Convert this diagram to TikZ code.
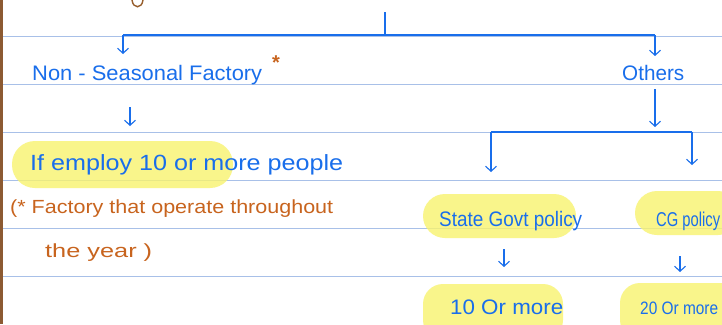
\documentclass[tikz,border=0pt]{standalone}
\usepackage{fontspec}
\setmainfont{Liberation Sans}
\usetikzlibrary{arrows.meta}
\definecolor{inkblue}{RGB}{25,110,235}
\definecolor{inkorange}{RGB}{200,100,30}
\definecolor{hilite}{RGB}{248,243,110}
\definecolor{ruleblue}{RGB}{168,192,232}
\definecolor{marginbrown}{RGB}{140,90,50}
\newcommand{\fitw}[2]{\resizebox{#1}{\height}{#2}}
\tikzset{
  ruleline/.style={ruleblue, line width=1pt},
  hl/.style={fill=hilite, fill opacity=0.8, draw=none},
  bluetxt/.style={text=inkblue, anchor=base west, inner sep=0pt, font=\fontsize{21}{23}\selectfont},
  orgtxt/.style={text=inkorange, anchor=base west, inner sep=0pt, font=\fontsize{19}{21}\selectfont},
  link/.style={inkblue, line width=1.1pt},
  arr/.style={link, -{Straight Barb[length=5pt,width=11pt]}},
}
\begin{document}
\begin{tikzpicture}[x=1pt,y=-1pt]
\useasboundingbox (0,0) rectangle (722,324);
\clip (0,0) rectangle (722,324);
\fill[white] (0,0) rectangle (722,324);
% ruled lines
\foreach \yy in {36,84,132,180,228,276} \draw[ruleline] (3,\yy) -- (722,\yy);
% margin
\fill[marginbrown] (0,0) rectangle (2.5,324);
% fragment of a letter above
\draw[marginbrown!90!orange, line width=1.4pt] (132,0) .. controls (133,9) and (142,9) .. (143,0);
% highlights
\fill[hl, rounded corners=23pt] (12,141) rectangle (233,188);
\fill[hl, rounded corners=22pt] (423,194) rectangle (576,238);
\fill[hl, rounded corners=22pt] (635,191) rectangle (740,235);
\fill[hl, rounded corners=20pt] (423,284) rectangle (563,340);
\fill[hl, rounded corners=20pt] (620,283) rectangle (740,340);
% texts
\node[bluetxt] (nsf) at (32,80) {\fitw{230pt}{Non - Seasonal Factory}};
\node[text=inkorange, font=\fontsize{20}{20}\selectfont\bfseries, inner sep=0pt] (star) at (276,63) {*};
\node[bluetxt] (oth) at (622,80) {\fitw{62pt}{Others}};
\node[bluetxt, font=\fontsize{22}{24}\selectfont] (emp) at (30,170) {\fitw{313pt}{If employ 10 or more people}};
\node[orgtxt] (note1) at (10,213) {\fitw{323pt}{(* Factory that operate throughout}};
\node[orgtxt] (note2) at (45,257) {\fitw{107pt}{the year )}};
\node[bluetxt, font=\fontsize{21}{23}\selectfont] (sgp) at (439,226) {\fitw{143pt}{State Govt policy}};
\node[bluetxt, font=\fontsize{20}{22}\selectfont] (cgp) at (656,226) {\fitw{64pt}{CG policy}};
\node[bluetxt, font=\fontsize{21}{23}\selectfont] (ten) at (450,314) {\fitw{113pt}{10 Or more}};
\node[bluetxt, font=\fontsize{18}{20}\selectfont] (twenty) at (640,314) {\fitw{78pt}{20 Or more}};
% connector coordinates
\coordinate (top) at (385,12);
\coordinate (jtop) at (385,35);
\coordinate (jl) at (123,35);
\coordinate (jr) at (655,35);
\coordinate (aNS) at (123,54);
\coordinate (aOT) at (655,56);
\coordinate (nsA) at (130,107);
\coordinate (nsB) at (130,126);
\coordinate (otA) at (655,89);
\coordinate (otB) at (655,127);
\coordinate (bl) at (491,132);
\coordinate (br) at (692,132);
\coordinate (aSG) at (491,172);
\coordinate (aCG) at (692,165);
\coordinate (sgA) at (504,249);
\coordinate (sgB) at (504,267);
\coordinate (cgA) at (680,256);
\coordinate (cgB) at (680,272);
% connectors
\draw[link] (top) -- (jtop);
\draw[link] (jl) -- (jr);
\draw[arr] (jl) -- (aNS);
\draw[arr] (jr) -- (aOT);
\draw[arr] (nsA) -- (nsB);
\draw[arr] (otA) -- (otB);
\draw[link] (bl) -- (br);
\draw[arr] (bl) -- (aSG);
\draw[arr] (br) -- (aCG);
\draw[arr] (sgA) -- (sgB);
\draw[arr] (cgA) -- (cgB);
\end{tikzpicture}
\end{document}
